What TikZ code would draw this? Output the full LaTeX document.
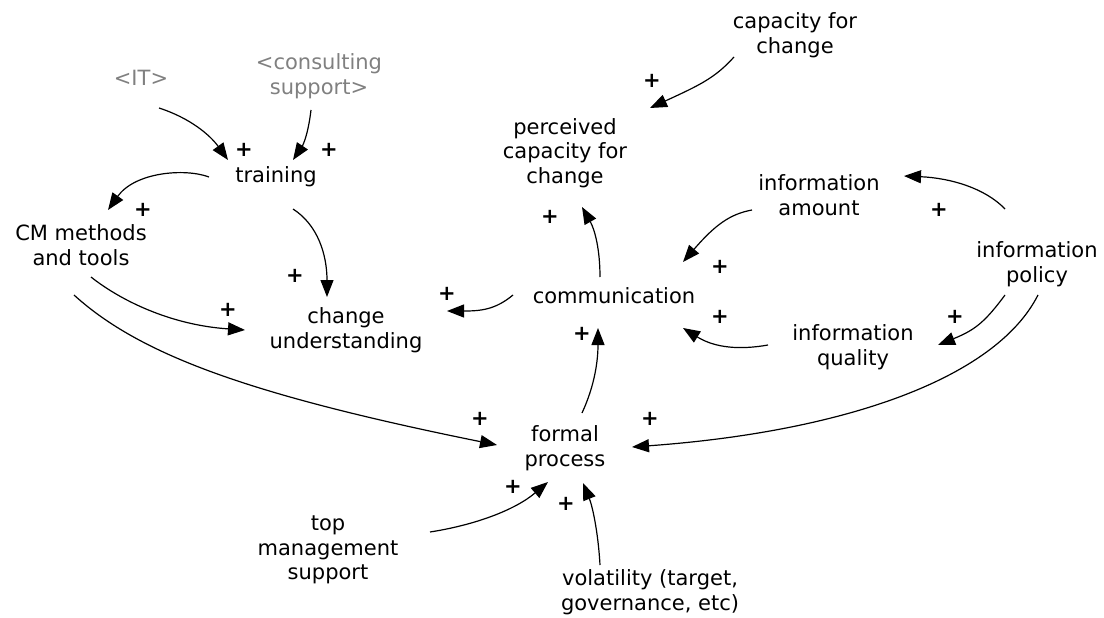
\documentclass[tikz,border=0pt]{standalone}
\usepackage{fontspec}
\setmainfont{DejaVu Sans}
\usetikzlibrary{arrows.meta}
\definecolor{ghost}{RGB}{128,128,128}
\begin{document}
\begin{tikzpicture}[x=1pt,y=-1pt,
  var/.style={align=center,inner sep=0pt,font=\fontsize{21}{24.5}\selectfont},
  shadow/.style={var,text=ghost},
  pol/.style={inner sep=0pt,font=\fontsize{21}{24}\selectfont\bfseries},
  link/.style={line width=1.2pt,-{Triangle[length=17pt,width=13pt]}}]
\path[use as bounding box] (0,0) rectangle (1104,618);

% variables
\node[shadow] (it)       at (141,78)  {<IT>};
\node[shadow] (cons)     at (319,76)  {<consulting\\support>};
\node[var]    (training) at (276,177) {training};
\node[var]    (cm)       at (81,245)  {CM methods\\and tools};
\node[var]    (chu)      at (346,330) {change\\understanding};
\node[var]    (comm)     at (614,296) {communication};
\node[var]    (perc)     at (565,153) {perceived\\capacity for\\change};
\node[var]    (cap)      at (795,35)  {capacity for\\change};
\node[var]    (amount)   at (819,195) {information\\amount};
\node[var]    (policy)   at (1037,264){information\\policy};
\node[var]    (quality)  at (853,347) {information\\quality};
\node[var]    (formal)   at (565,448) {formal\\process};
\node[var]    (top)      at (328,550) {top\\management\\support};
\node[var]    (vol)      at (650,592) {volatility (target,\\governance, etc)};

% causal links
\draw[link] ([shift={(18,30)}]it.center) .. controls (190,118) and (210,135) .. ([shift={(-48,-17)}]training.center);
\draw[link] ([shift={(-8,34)}]cons.center) .. controls (308,135) and (303,145) .. ([shift={(17,-17)}]training.center);
\draw[link] ([shift={(-67,0)}]training.center) .. controls (185,168) and (135,172) .. ([shift={(27,-35)}]cm.center);
\draw[link] ([shift={(17,32)}]training.center) .. controls (318,225) and (327,255) .. ([shift={(-19,-33)}]chu.center);
\draw[link] ([shift={(10,32)}]cm.center) .. controls (120,300) and (170,325) .. ([shift={(-101,0)}]chu.center);
\draw[link] ([shift={(-7,50)}]cm.center) .. controls (140,355) and (250,395) .. ([shift={(-68,-3)}]formal.center);
\draw[link] ([shift={(-101,-1)}]comm.center) .. controls (495,310) and (480,311) .. ([shift={(101,-19)}]chu.center);
\draw[link] ([shift={(-14,-19)}]comm.center) .. controls (600,250) and (595,230) .. ([shift={(17,54)}]perc.center);
\draw[link] ([shift={(-61,22)}]cap.center) .. controls (715,78) and (700,85) .. ([shift={(85,-45)}]perc.center);
\draw[link] ([shift={(-67,15)}]amount.center) .. controls (730,214) and (715,225) .. ([shift={(69,-34)}]comm.center);
\draw[link] ([shift={(-32,-55)}]policy.center) .. controls (985,188) and (950,178) .. ([shift={(85,-19)}]amount.center);
\draw[link] ([shift={(-32,31)}]policy.center) .. controls (985,322) and (975,330) .. ([shift={(85,-2)}]quality.center);
\draw[link] ([shift={(-85,-2)}]quality.center) .. controls (740,350) and (715,348) .. ([shift={(69,32)}]comm.center);
\draw[link] ([shift={(1,31)}]policy.center) .. controls (995,380) and (840,432) .. ([shift={(67,-1)}]formal.center);
\draw[link] ([shift={(17,-35)}]formal.center) .. controls (595,385) and (598,360) .. ([shift={(-16,32)}]comm.center);
\draw[link] ([shift={(102,-18)}]top.center) .. controls (475,525) and (515,510) .. ([shift={(-17,34)}]formal.center);
\draw[link] ([shift={(-50,-27)}]vol.center) .. controls (598,530) and (592,505) .. ([shift={(18,35)}]formal.center);

% link polarities
\node[pol] (p1)  at (244,150) {+};
\node[pol] (p2)  at (329,150) {+};
\node[pol] (p3)  at (143,210) {+};
\node[pol] (p4)  at (295,276) {+};
\node[pol] (p5)  at (228,310) {+};
\node[pol] (p6)  at (480,419) {+};
\node[pol] (p7)  at (447,294) {+};
\node[pol] (p8)  at (550,217) {+};
\node[pol] (p9)  at (652,81)  {+};
\node[pol] (p10) at (720,267) {+};
\node[pol] (p11) at (939,210) {+};
\node[pol] (p12) at (955,317) {+};
\node[pol] (p13) at (720,317) {+};
\node[pol] (p14) at (650,419) {+};
\node[pol] (p15) at (582,334) {+};
\node[pol] (p16) at (513,487) {+};
\node[pol] (p17) at (566,504) {+};
\end{tikzpicture}
\end{document}
